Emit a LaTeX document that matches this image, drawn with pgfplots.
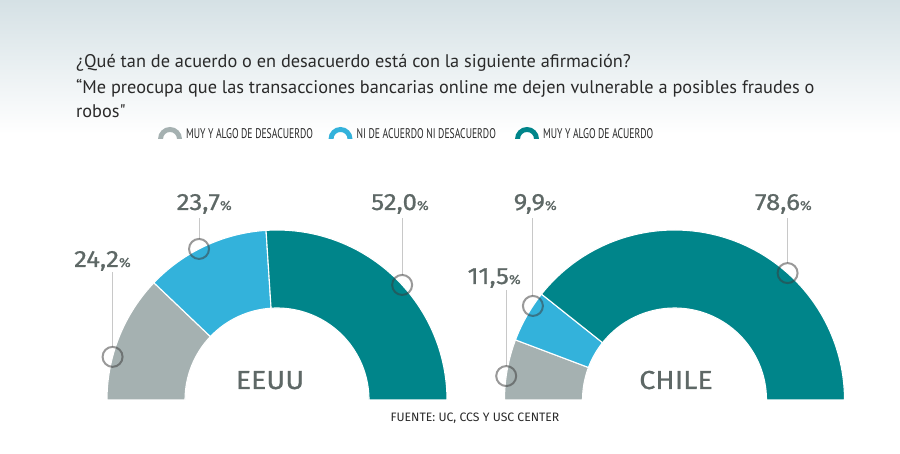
\documentclass[border=0pt]{standalone}
\usepackage{fontspec}
\setmainfont{PT Sans}
\newfontfamily\titlefont{PT Sans}
\newfontfamily\legfont{PT Sans}[FakeStretch=0.69]
\newfontfamily\numfont{Fira Sans}[FakeBold=0.7,FakeStretch=1.1]
\newfontfamily\srcfont{Fira Sans}
\usepackage{pgfplots}
\usepackage{pgfplotstable}
\pgfplotsset{compat=1.18}

\definecolor{cgray}{HTML}{A5B1B1}
\definecolor{cblue}{HTML}{33B2DB}
\definecolor{cteal}{HTML}{00858A}
\definecolor{ctext}{HTML}{5E6866}
\definecolor{ctitle}{HTML}{2A2A2A}
\definecolor{bgtop}{HTML}{D5E1E5}
\definecolor{cring}{RGB}{60,60,60}
\definecolor{clead}{HTML}{C8C8C8}

% shares in %, and where the marker ring sits (degrees from the left end)
\pgfplotstableread{
pct   markat
24.2  14.7
23.7  62.7
52.0  137.4
}\eeuu
\pgfplotstableread{
pct   markat
11.5  8.1
9.9   33.6
78.6  131.7
}\chile

% boundary angles (tikz convention) of the three segments
\newcommand\getangles[2]{%
  \pgfplotstablegetelem{0}{pct}\of#1\let\pa\pgfplotsretval
  \pgfplotstablegetelem{1}{pct}\of#1\let\pb\pgfplotsretval
  \pgfplotstablegetelem{2}{pct}\of#1\let\pc\pgfplotsretval
  \pgfmathsetmacro\tot{\pa+\pb+\pc}%
  \expandafter\pgfmathsetmacro\csname #2one\endcsname{180-180*\pa/\tot}%
  \expandafter\pgfmathsetmacro\csname #2two\endcsname{180-180*(\pa+\pb)/\tot}%
  \pgfplotstablegetelem{0}{markat}\of#1\expandafter\pgfmathsetmacro\csname #2ma\endcsname{180-\pgfplotsretval}%
  \pgfplotstablegetelem{1}{markat}\of#1\expandafter\pgfmathsetmacro\csname #2mb\endcsname{180-\pgfplotsretval}%
  \pgfplotstablegetelem{2}{markat}\of#1\expandafter\pgfmathsetmacro\csname #2mc\endcsname{180-\pgfplotsretval}%
}

% ring segment: center x, start angle, end angle, colour
\newcommand\seg[4]{%
  \fill[#4,draw=white,line width=1.1pt]
    (axis cs:{#1+170*cos(#2)},{54+170*sin(#2)}) arc[start angle=#2,end angle=#3,radius=170]
    -- (axis cs:{#1+92*cos(#3)},{54+92*sin(#3)}) arc[start angle=#3,end angle=#2,radius=92] -- cycle;}

% marker ring with leader line: center x, angle, top of leader (axis y)
\newcommand\mk[3]{%
  \draw[clead,line width=0.9pt] (axis cs:{#1+170*cos(#2)},{54+170*sin(#2)+10}) -- (axis cs:{#1+170*cos(#2)},#3);
  \draw[cring,draw opacity=0.52,line width=2pt] (axis cs:{#1+170*cos(#2)},{54+170*sin(#2)}) circle[radius=10];}

\newcommand\val[2]{{\numfont\fontsize{23.5}{23.5}\selectfont #1}{\numfont\fontsize{13}{13}\selectfont #2}}

\newcommand\legitem[3]{%
  \fill[#3] (axis cs:#1-12,315) arc[start angle=180,end angle=0,radius=12]
    -- (axis cs:#1+7,315) arc[start angle=0,end angle=180,radius=7] -- cycle;
  \node[anchor=base west,inner sep=0,text=ctitle,font=\legfont\fontsize{14}{14}\selectfont] at (axis cs:#1+16,315) {#2};}

\begin{document}
\begin{tikzpicture}
\getangles{\eeuu}{EU}
\getangles{\chile}{CL}
\begin{axis}[
    hide axis,
    x=1pt, y=1pt,
    xmin=0, xmax=900,
    ymin=0, ymax=454,
    clip=false,
]
% background
\fill[white] (axis cs:0,0) rectangle (axis cs:900,454);
\shade[top color=bgtop, bottom color=white] (axis cs:0,454) rectangle (axis cs:900,320);

% title
\node[anchor=base west,inner sep=0,text=ctitle,font=\titlefont\fontsize{18.3}{18.3}\selectfont] at (axis cs:76,386.3) {¿Qué tan de acuerdo o en desacuerdo está con la siguiente afirmación?};
\node[anchor=base west,inner sep=0,text=ctitle,font=\titlefont\fontsize{18.3}{18.3}\selectfont] at (axis cs:76,360.7) {“Me preocupa que las transacciones bancarias online me dejen vulnerable a posibles fraudes o};
\node[anchor=base west,inner sep=0,text=ctitle,font=\titlefont\fontsize{18.3}{18.3}\selectfont] at (axis cs:76,336.3) {robos"};

% legend
\legitem{170}{MUY Y ALGO DE DESACUERDO}{cgray}
\legitem{340.5}{NI DE ACUERDO NI DESACUERDO}{cblue}
\legitem{527}{MUY Y ALGO DE ACUERDO}{cteal}

% EEUU
\seg{277}{180}{\EUone}{cgray}
\seg{277}{\EUone}{\EUtwo}{cblue}
\seg{277}{\EUtwo}{0}{cteal}
\mk{277}{\EUma}{182}
\mk{277}{\EUmb}{236}
\mk{277}{\EUmc}{236}
\node[anchor=base east,inner sep=0,text=ctext] at (axis cs:131,187) {\val{24,2}{\%}};
\node[anchor=base east,inner sep=0,text=ctext] at (axis cs:232,244) {\val{23,7}{\%}};
\node[anchor=base east,inner sep=0,text=ctext] at (axis cs:429,244) {\val{52,0}{\%}};
\node[anchor=base,inner sep=0,text=ctext,font=\numfont\fontsize{26}{26}\selectfont] at (axis cs:270,65) {EEUU};

% CHILE
\seg{674.5}{180}{\CLone}{cgray}
\seg{674.5}{\CLone}{\CLtwo}{cblue}
\seg{674.5}{\CLtwo}{0}{cteal}
\mk{674.5}{\CLma}{164}
\mk{674.5}{\CLmb}{236}
\mk{674.5}{\CLmc}{236}
\node[anchor=base east,inner sep=0,text=ctext] at (axis cs:521,170) {\val{11,5}{\%}};
\node[anchor=base east,inner sep=0,text=ctext] at (axis cs:557,244) {\val{9,9}{\%}};
\node[anchor=base east,inner sep=0,text=ctext] at (axis cs:812,244) {\val{78,6}{\%}};
\node[anchor=base,inner sep=0,text=ctext,font=\numfont\fontsize{26}{26}\selectfont] at (axis cs:676,65) {CHILE};

% source
\node[anchor=base,inner sep=0,text=ctitle,font=\srcfont\fontsize{12.2}{12.2}\selectfont] at (axis cs:475,32) {FUENTE: UC, CCS Y USC CENTER};
\end{axis}
\end{tikzpicture}
\end{document}
